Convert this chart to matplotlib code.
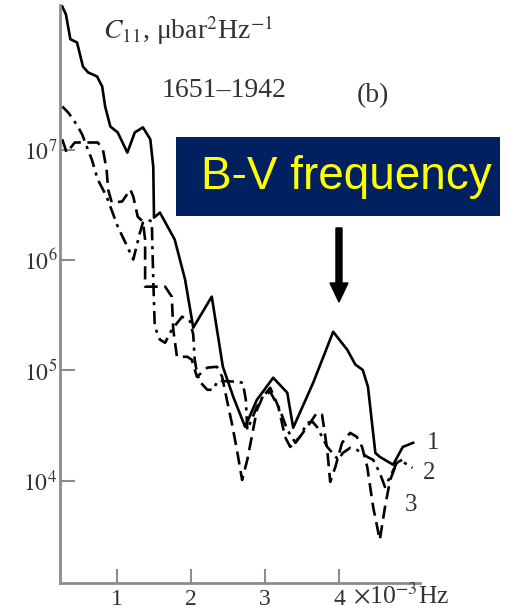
import matplotlib
matplotlib.use("Agg")
import matplotlib.pyplot as plt
from matplotlib.patches import FancyArrow, Rectangle

plt.rcParams["font.family"] = ["Liberation Serif", "DejaVu Serif"]
plt.rcParams["mathtext.fontset"] = "stix"

# === DATOS ===
# frecuencia en 10^-3 Hz, C11 en mubar^2/Hz
x1 = [0.26, 0.31, 0.37, 0.46, 0.54, 0.61, 0.73, 0.80, 0.84, 0.91, 1.01, 1.14, 1.24, 1.35,
      1.45, 1.49, 1.50, 1.58, 1.78, 1.92, 2.03, 2.28, 2.43, 2.57, 2.73, 2.89, 3.11, 3.30,
      3.38, 3.65, 3.92, 4.11, 4.22, 4.32, 4.39, 4.49, 4.55, 4.73, 4.86, 5.00]
c1 = [1.98e8, 1.68e8, 1.0e8, 9.35e7, 5.66e7, 5.0e7, 4.6e7, 3.73e7, 2.46e7, 1.62e7, 1.43e7,
      9.4e6, 1.43e7, 1.59e7, 1.24e7, 7.0e6, 2.42e6, 2.69e6, 1.53e6, 6.64e5, 2.44e5, 4.66e5,
      1.08e5, 5.78e4, 3.09e4, 5.42e4, 8.59e4, 6.28e4, 3.03e4, 7.73e4, 2.24e5, 1.54e5,
      1.13e5, 1.01e5, 7.11e4, 1.79e4, 1.65e4, 1.40e4, 2.03e4, 2.21e4]

# curva 2 (punto-raya)
x2 = [0.26, 0.34, 0.41, 0.47, 0.53, 0.59, 0.66, 0.74, 0.86, 0.91, 1.01, 1.14, 1.22, 1.31,
      1.35, 1.42, 1.47, 1.49, 1.51, 1.58, 1.65, 1.74, 1.88, 1.99, 2.03, 2.05, 2.08, 2.12,
      2.22, 2.30, 2.36, 2.62, 2.70, 2.74, 2.76, 2.89, 2.97, 3.07, 3.20, 3.30, 3.41, 3.47,
      3.57, 3.64, 3.70, 3.84, 3.99, 4.05, 4.15, 4.24, 4.38, 4.46, 4.55, 4.62, 4.69, 4.78,
      4.86, 4.99]
c2 = [2.46e7, 2.17e7, 1.87e7, 1.62e7, 1.37e7, 1.07e7, 8.13e6, 5.36e6, 3.76e6, 3.05e6,
      2.01e6, 1.32e6, 1.01e6, 1.77e6, 2.18e6, 2.32e6, 2.23e6, 6.64e5, 2.49e5, 1.90e5,
      1.78e5, 2.34e5, 3.07e5, 2.77e5, 2.11e5, 1.25e5, 9.53e4, 7.9e4, 6.68e4, 6.68e4,
      8.07e4, 7.9e4, 7.73e4, 5.42e4, 2.9e4, 4.69e4, 5.78e4, 6.41e4, 4.4e4, 2.9e4, 2.21e4,
      2.5e4, 3.36e4, 3.43e4, 3.09e4, 2.03e4, 1.55e4, 1.79e4, 1.99e4, 1.91e4, 1.65e4,
      1.55e4, 1.18e4, 8.8e3, 1.09e4, 1.46e4, 1.49e4, 1.31e4]

# curva 3 (rayas)
x3 = [0.26, 0.32, 0.43, 0.61, 0.74, 0.81, 0.86, 0.88, 0.93, 1.07, 1.18, 1.22, 1.28, 1.35,
      1.38, 1.38, 1.49, 1.65, 1.74, 1.76, 1.81, 1.95, 2.01, 2.08, 2.22, 2.35, 2.42, 2.49,
      2.55, 2.62, 2.69, 2.76, 2.82, 2.89, 2.97, 3.07, 3.18, 3.27, 3.34, 3.47, 3.61, 3.70,
      3.77, 3.84, 3.88, 3.95, 4.04, 4.15, 4.24, 4.31, 4.38, 4.46, 4.55, 4.62, 4.69, 4.78,
      4.85]
c3 = [1.24e7, 9.4e6, 1.16e7, 1.16e7, 1.16e7, 1.0e7, 6.6e6, 4.35e6, 3.31e6, 3.39e6,
      4.35e6, 3.76e6, 2.47e6, 2.23e6, 1.53e6, 5.74e5, 5.74e5, 5.74e5, 4.66e5, 2.34e5,
      1.33e5, 1.33e5, 1.25e5, 8.77e4, 1.06e5, 1.08e5, 8.77e4, 5.2e4, 3.36e4, 1.91e4,
      1.02e4, 1.55e4, 2.5e4, 4.4e4, 5.78e4, 6.97e4, 4.69e4, 2.5e4, 2.03e4, 2.5e4, 3.36e4,
      4.14e4, 3.97e4, 1.91e4, 9.8e3, 1.34e4, 2.21e4, 2.72e4, 2.5e4, 2.03e4, 1.34e4, 5.8e3,
      2.92e3, 5.8e3, 1.02e4, 1.46e4, 1.55e4]

xticks = [1, 2, 3, 4]
yticks = [1e4, 1e5, 1e6, 1e7]
ylabels = ["$10^{4}$", "$10^{5}$", "$10^{6}$", "$10^{7}$"]

# === GRAFICAR ===
fig = plt.figure(figsize=(5.14, 6.14), dpi=100)
ax = fig.add_axes([0.1167, 0.0505, 0.70, 0.9414])

ax.plot(x1, c1, color="black", lw=1.9)
ax.plot(x2, c2, color="black", lw=1.9, dashes=[5, 2.2, 1.2, 2.2])
ax.plot(x3, c3, color="black", lw=1.9, dashes=[5, 2.5])

ax.set_yscale("log")
ax.set_xlim(0.23, 5.09)
ax.set_ylim(10**3.075, 10**8.31)

gris = "#8c8c8c"
txt = "#333333"
for s in ["top", "right"]:
    ax.spines[s].set_visible(False)
for s in ["left", "bottom"]:
    ax.spines[s].set_color(gris)
    ax.spines[s].set_linewidth(2)

ax.set_xticks(xticks)
ax.set_xticklabels([str(t) for t in xticks])
ax.set_yticks(yticks)
ax.set_yticklabels(ylabels)
ax.yaxis.set_minor_locator(matplotlib.ticker.NullLocator())
ax.tick_params(axis="x", direction="in", length=10, width=1.5, color=gris,
               labelsize=17, labelcolor=txt, pad=4)
ax.tick_params(axis="y", direction="in", length=11, width=1.5, color=gris,
               labelsize=17, labelcolor=txt, pad=2)

# unidades del eje x junto al 4
ax.text(4.19, 10**3.075, "$\\times$10$^{-3}$Hz", fontsize=18.5, color=txt,
        ha="left", va="top")

fig.text(0.200, 0.951, "$C_{11}$, μbar$^{2}$Hz$^{-1}$", fontsize=20, color=txt,
         ha="left", va="center")
fig.text(0.315, 0.853, "1651–1942", fontsize=20, color=txt, ha="left", va="center")
fig.text(0.695, 0.845, "(b)", fontsize=20, color=txt, ha="left", va="center")

fig.text(0.831, 0.279, "1", fontsize=18, color=txt, ha="left", va="center")
fig.text(0.823, 0.230, "2", fontsize=18, color=txt, ha="left", va="center")
fig.text(0.788, 0.178, "3", fontsize=18, color=txt, ha="left", va="center")

# recuadro B-V
fig.patches.append(Rectangle((0.342, 0.648), 0.630, 0.129, fc="#00205f", ec="none",
                             transform=fig.transFigure, figure=fig))
fig.text(0.673, 0.711, "B-V frequency", fontsize=33, color="#ffff00",
         family="Liberation Sans", ha="center", va="center")
fig.patches.append(FancyArrow(0.6595, 0.6287, 0, -0.1206, width=0.0117, head_width=0.035,
                              head_length=0.031, length_includes_head=True,
                              color="black", transform=fig.transFigure, figure=fig))

fig.savefig("out.png", dpi=100)
